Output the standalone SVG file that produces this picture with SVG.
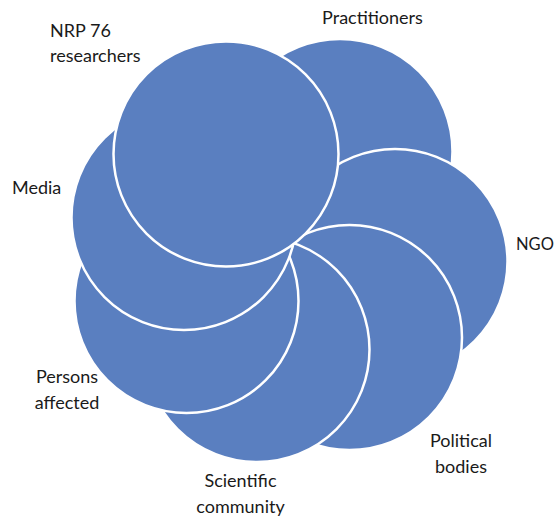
<svg xmlns="http://www.w3.org/2000/svg" width="555" height="520" viewBox="0 0 555 520">
<style>
  .c { fill: #5A7FC0; stroke: #FFFFFF; stroke-width: 2.5; }
  .t { font-family: "Lato", "Liberation Sans", sans-serif; font-size: 18px; fill: #1A1A1A; }
  .m { text-anchor: middle; }
  .s { font-size: 16.5px; }
</style>
<rect width="555" height="520" fill="#FFFFFF"/>
<g id="practitioners"><circle class="c" cx="340" cy="151.5" r="112.5"/></g>
<g id="ngo"><circle class="c" cx="395" cy="261.5" r="112.5"/></g>
<g id="political-bodies"><circle class="c" cx="349.5" cy="337.5" r="112.5"/></g>
<g id="scientific-community"><circle class="c" cx="257" cy="349.5" r="112.5"/></g>
<g id="persons-affected"><circle class="c" cx="186.5" cy="301" r="112"/></g>
<g id="media"><circle class="c" cx="184" cy="217.5" r="112.5"/></g>
<g id="nrp76"><circle class="c" cx="226" cy="154" r="112.5"/></g>
<g id="connectors"></g>
<g id="labels">
  <text class="t" x="50" y="36.5">NRP 76</text>
  <text class="t" x="50" y="62">researchers</text>
  <text class="t m" x="372.5" y="24">Practitioners</text>
  <text class="t" x="12" y="193.5">Media</text>
  <text class="t s" x="516" y="249.5">NGO</text>
  <text class="t m" x="67" y="383">Persons</text>
  <text class="t m" x="67" y="409">affected</text>
  <text class="t m" x="461" y="447">Political</text>
  <text class="t m" x="461" y="473">bodies</text>
  <text class="t m" x="240.5" y="487">Scientific</text>
  <text class="t m" x="240.5" y="513">community</text>
</g>
</svg>
